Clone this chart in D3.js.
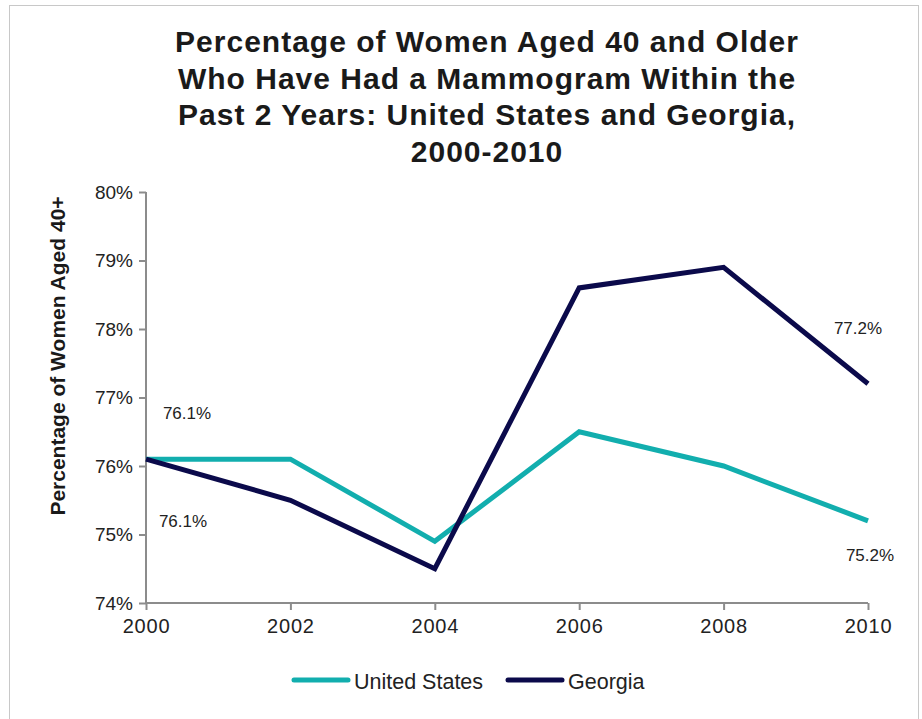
<!DOCTYPE html>
<html><head><meta charset="utf-8">
<script src="https://cdn.jsdelivr.net/npm/d3@7"></script>
<style>body{margin:0;background:#fff}svg{display:block}</style>
</head><body>
<script>
const years = [2000, 2002, 2004, 2006, 2008, 2010];
const usValues = [76.1, 76.1, 74.9, 76.5, 76.0, 75.2];
const gaValues = [76.1, 75.5, 74.5, 78.6, 78.9, 77.2];
const yTicks = [74, 75, 76, 77, 78, 79, 80];
const seriesNames = ["United States", "Georgia"];
const titleLines = ["Percentage of Women Aged 40 and Older", "Who Have Had a Mammogram Within the", "Past 2 Years: United States and Georgia,", "2000-2010"];
const yTitle = "Percentage of Women Aged 40+";

const W = 922, H = 719;
const colors = ["#12AEAE", "#0B0A4B"];
const svg = d3.select("body").append("svg").attr("width", W).attr("height", H);
svg.append("rect").attr("x", 9.5).attr("y", 5.5).attr("width", 909).attr("height", 730).attr("fill", "none").attr("stroke", "#c8c8c8").attr("stroke-width", 1);

const x = d3.scaleLinear().domain([2000, 2010]).range([146, 868]);
const y = d3.scaleLinear().domain([74, 80]).range([603, 192]);

const font = "'Liberation Sans', Arial, sans-serif";
svg.append("g").selectAll("text").data(titleLines).join("text")
  .attr("x", 487).attr("y", (d, i) => 52 + i * 36.5)
  .attr("text-anchor", "middle").attr("font-family", font).attr("font-weight", "bold")
  .attr("font-size", 30).attr("letter-spacing", 1).attr("fill", "#1a1a1a").text(d => d);

const yAxis = d3.axisLeft(y).tickValues(yTicks).tickFormat(d => d + "%").tickSize(7).tickPadding(6);
const gy = svg.append("g").attr("transform", "translate(146,0)").call(yAxis);
const xAxis = d3.axisBottom(x).tickValues(years).tickFormat(d3.format("d")).tickSize(7).tickPadding(9);
const gx = svg.append("g").attr("transform", "translate(0,603)").call(xAxis);
[gy, gx].forEach(g => {
  g.select(".domain").attr("stroke", "#8c8c8c").attr("stroke-width", 2);
  g.selectAll(".tick line").attr("stroke", "#8c8c8c").attr("stroke-width", 2);
  g.selectAll(".tick text").attr("font-family", font).attr("fill", "#222");
});
gy.selectAll(".tick text").attr("font-size", 19);
gx.selectAll(".tick text").attr("font-size", 20).attr("letter-spacing", 0.8);
gy.select(".domain").attr("d", "M0,192V603");
gx.select(".domain").attr("d", "M146,0H868");

svg.append("text").attr("transform", "translate(65,356) rotate(-90)")
  .attr("text-anchor", "middle").attr("font-family", font).attr("font-weight", "bold")
  .attr("font-size", 21).attr("fill", "#1a1a1a").text(yTitle);

const line = d3.line().x((d, i) => x(years[i])).y(d => y(d));
[usValues, gaValues].forEach((vals, k) => {
  svg.append("path").datum(vals).attr("d", line).attr("fill", "none")
    .attr("stroke", colors[k]).attr("stroke-width", 5).attr("stroke-linejoin", "miter");
});

const lbl = (t, xx, yy) => svg.append("text").attr("x", xx).attr("y", yy)
  .attr("font-family", font).attr("font-size", 17).attr("fill", "#222").attr("text-anchor", "middle").text(t);
lbl(d3.format(".1f")(usValues[0]) + "%", x(years[0]) + 41, y(usValues[0]) - 40);
lbl(d3.format(".1f")(gaValues[0]) + "%", x(years[0]) + 37, y(gaValues[0]) + 68);
lbl(d3.format(".1f")(gaValues[5]) + "%", x(years[5]) - 10, y(gaValues[5]) - 50);
lbl(d3.format(".1f")(usValues[5]) + "%", x(years[5]) + 2, y(usValues[5]) + 40);

const legX = [294, 508];
seriesNames.forEach((n, k) => {
  svg.append("line").attr("x1", legX[k]).attr("x2", legX[k] + 54).attr("y1", 680).attr("y2", 680)
    .attr("stroke", colors[k]).attr("stroke-width", 5).attr("stroke-linecap", "round");
  svg.append("text").attr("x", legX[k] + 60).attr("y", 689).attr("font-family", font)
    .attr("font-size", 21.5).attr("fill", "#222").text(n);
});
</script>
</body></html>
